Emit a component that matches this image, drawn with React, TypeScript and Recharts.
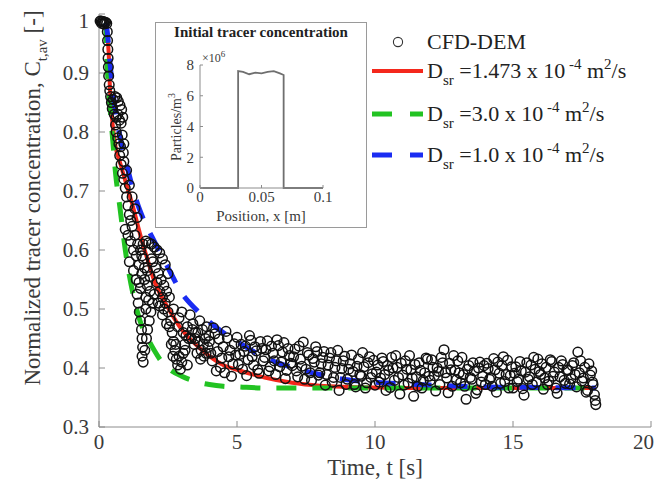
import React from 'react';
import { ComposedChart, LineChart, Line, Scatter, XAxis, YAxis } from 'recharts';

const SERIF = '"Liberation Serif", "Times New Roman", serif';
const AXIS_GREY = '#8c8c8c';
const TEXT = '#3a3a3a';
const RED = '#f4281c';
const GREEN = '#22c322';
const BLUE = '#1a2cf2';

// CFD-DEM samples: [time s, normalized concentration]
const cfdDem: [number, number][] = [
  [0.04, 0.988], [0.08, 0.988], [0.12, 0.987], [0.16, 0.987], [0.2, 0.986], [0.24, 0.986], [0.28, 0.984], [0.1, 0.984], [0.18, 0.983],
  [0.3, 0.97], [0.31, 0.955], [0.32, 0.94], [0.33, 0.925], [0.34, 0.91], [0.35, 0.895], [0.37, 0.88], [0.39, 0.87], [0.42, 0.86], [0.45, 0.85], [0.48, 0.84],
  [0.52, 0.855], [0.58, 0.86], [0.64, 0.858], [0.7, 0.852], [0.76, 0.845], [0.82, 0.838], [0.86, 0.825], [0.55, 0.83], [0.62, 0.825], [0.68, 0.83], [0.74, 0.82], [0.8, 0.815], [0.6, 0.812],
  [0.62, 0.8], [0.68, 0.79], [0.72, 0.78], [0.78, 0.775], [0.84, 0.795], [0.9, 0.78], [0.88, 0.765],
  [0.75, 0.76], [0.8, 0.745], [0.85, 0.73], [0.9, 0.72], [0.95, 0.705], [1.0, 0.69], [1.05, 0.675], [1.1, 0.66], [1.15, 0.65], [1.0, 0.735], [1.1, 0.71], [1.2, 0.69], [1.3, 0.67], [1.38, 0.655], [0.9, 0.75],
  [0.95, 0.635], [1.05, 0.625], [1.15, 0.615], [1.25, 0.6], [1.35, 0.59], [1.45, 0.575], [1.55, 0.56], [1.65, 0.55], [1.75, 0.54], [1.85, 0.53], [1.2, 0.64], [1.3, 0.625], [1.4, 0.61], [1.5, 0.6], [1.6, 0.585], [1.1, 0.58], [1.25, 0.565], [1.35, 0.55], [1.5, 0.535], [1.7, 0.52],
  [1.45, 0.545], [1.55, 0.59], [1.65, 0.57], [1.75, 0.565], [1.85, 0.555], [1.9, 0.585], [2.1, 0.545], [2.2, 0.53], [2.3, 0.52], [2.15, 0.51], [2.35, 0.5],
  [1.6, 0.61], [1.7, 0.615], [1.8, 0.612], [1.9, 0.61], [2.0, 0.605], [2.1, 0.6], [2.2, 0.595], [2.3, 0.585], [2.4, 0.575], [2.5, 0.56], [1.95, 0.58], [2.05, 0.57], [2.15, 0.56], [2.25, 0.55], [2.35, 0.54], [2.45, 0.53], [2.55, 0.52],
  [1.38, 0.525], [1.42, 0.51], [1.46, 0.495], [1.5, 0.48], [1.54, 0.465], [1.56, 0.45], [1.58, 0.435], [1.56, 0.42], [1.6, 0.41], [1.66, 0.43], [1.72, 0.45], [1.76, 0.465], [1.82, 0.48], [1.88, 0.495], [1.94, 0.51], [2.0, 0.525], [1.7, 0.5], [1.8, 0.515],
  [2.2, 0.505], [2.3, 0.49], [2.4, 0.51], [2.5, 0.495], [2.45, 0.475],
  [2.6, 0.48], [2.65, 0.46], [2.7, 0.445], [2.75, 0.43], [2.8, 0.415], [2.85, 0.405], [2.95, 0.398], [3.0, 0.41], [3.05, 0.425], [3.1, 0.44], [3.15, 0.455], [3.2, 0.47], [2.9, 0.485], [3.0, 0.495], [2.7, 0.5], [2.85, 0.47],
  [2.55, 0.47], [2.62, 0.44], [2.68, 0.42], [2.78, 0.44], [2.9, 0.42], [3.05, 0.46], [3.12, 0.43], [3.25, 0.45], [3.38, 0.465], [3.48, 0.45], [3.58, 0.46], [3.68, 0.415], [3.78, 0.44], [3.88, 0.425], [3.98, 0.455], [3.2, 0.405],
  [3.3, 0.49], [3.4, 0.475], [3.5, 0.46], [3.6, 0.445], [3.7, 0.43], [3.8, 0.42], [3.35, 0.45], [3.45, 0.44], [3.55, 0.425], [3.65, 0.48], [3.75, 0.465], [3.85, 0.45], [3.95, 0.435], [3.9, 0.47],
  [4.0, 0.445], [4.1, 0.412], [4.2, 0.458], [4.3, 0.428], [4.4, 0.401], [4.5, 0.436], [4.6, 0.462], [4.7, 0.419], [4.8, 0.386], [4.9, 0.441],
  [5.0, 0.452], [5.1, 0.423], [5.2, 0.398], [5.3, 0.437], [5.4, 0.414], [5.5, 0.447], [5.6, 0.405], [5.7, 0.429], [5.8, 0.391], [5.9, 0.433],
  [6.0, 0.418], [6.1, 0.446], [6.2, 0.402], [6.3, 0.425], [6.4, 0.389], [6.5, 0.438], [6.6, 0.41], [6.7, 0.443], [6.8, 0.396], [6.9, 0.421],
  [7.0, 0.404], [7.1, 0.432], [7.2, 0.385], [7.3, 0.415], [7.4, 0.444], [7.5, 0.398], [7.6, 0.422], [7.7, 0.379], [7.8, 0.41], [7.9, 0.428],
  [8.0, 0.392], [8.1, 0.418], [8.2, 0.371], [8.3, 0.405], [8.4, 0.426], [8.5, 0.384], [8.6, 0.412], [8.7, 0.362], [8.8, 0.399], [8.9, 0.42],
  [9.0, 0.381], [9.1, 0.407], [9.2, 0.394], [9.3, 0.368], [9.4, 0.415], [9.5, 0.386], [9.6, 0.402], [9.7, 0.375], [9.8, 0.419], [9.9, 0.39],
  [10.0, 0.371], [10.1, 0.405], [10.2, 0.383], [10.3, 0.411], [10.4, 0.362], [10.5, 0.396], [10.6, 0.418], [10.7, 0.379], [10.8, 0.401], [10.9, 0.356],
  [11.0, 0.388], [11.1, 0.412], [11.2, 0.374], [11.3, 0.397], [11.4, 0.352], [11.5, 0.385], [11.6, 0.409], [11.7, 0.366], [11.8, 0.392], [11.9, 0.415],
  [12.0, 0.379], [12.1, 0.401], [12.2, 0.361], [12.3, 0.394], [12.4, 0.418], [12.5, 0.431], [12.6, 0.383], [12.7, 0.408], [12.8, 0.369], [12.9, 0.396],
  [13.0, 0.412], [13.1, 0.375], [13.2, 0.389], [13.3, 0.347], [13.4, 0.404], [13.5, 0.381], [13.6, 0.395], [13.7, 0.363], [13.8, 0.41], [13.9, 0.386],
  [14.0, 0.372], [14.1, 0.399], [14.2, 0.384], [14.3, 0.416], [14.4, 0.359], [14.5, 0.391], [14.6, 0.404], [14.7, 0.377], [14.8, 0.413], [14.9, 0.387],
  [15.0, 0.366], [15.1, 0.402], [15.2, 0.381], [15.3, 0.395], [15.4, 0.354], [15.5, 0.409], [15.6, 0.385], [15.7, 0.372], [15.8, 0.398], [15.9, 0.415],
  [16.0, 0.389], [16.1, 0.364], [16.2, 0.401], [16.3, 0.378], [16.4, 0.411], [16.5, 0.393], [16.6, 0.357], [16.7, 0.385], [16.8, 0.406], [16.9, 0.374],
  [17.0, 0.396], [17.1, 0.382], [17.2, 0.409], [17.3, 0.368], [17.35, 0.427], [17.4, 0.392], [17.5, 0.378], [17.6, 0.401], [17.7, 0.362], [17.8, 0.388],
  [17.9, 0.372], [17.95, 0.355], [18.0, 0.338], [17.98, 0.345],
  [4.05, 0.425], [4.15, 0.468], [4.25, 0.395], [4.35, 0.449], [4.45, 0.417], [4.55, 0.392], [4.65, 0.451], [4.75, 0.43], [4.85, 0.407], [4.95, 0.422],
  [5.05, 0.406], [5.15, 0.44], [5.25, 0.428], [5.35, 0.387], [5.45, 0.455], [5.55, 0.419], [5.65, 0.436], [5.75, 0.397], [5.85, 0.445], [5.95, 0.412],
  [6.05, 0.431], [6.15, 0.395], [6.25, 0.437], [6.35, 0.412], [6.45, 0.448], [6.55, 0.402], [6.65, 0.427], [6.75, 0.382], [6.85, 0.433], [6.95, 0.408],
  [7.05, 0.419], [7.15, 0.395], [7.25, 0.437], [7.35, 0.403], [7.45, 0.381], [7.55, 0.426], [7.65, 0.392], [7.75, 0.416], [7.85, 0.436], [7.95, 0.388],
  [8.05, 0.407], [8.15, 0.428], [8.25, 0.389], [8.35, 0.417], [8.45, 0.376], [8.55, 0.401], [8.65, 0.43], [8.75, 0.384], [8.85, 0.412], [8.95, 0.372],
  [9.05, 0.398], [9.15, 0.422], [9.25, 0.372], [9.35, 0.403], [9.45, 0.389], [9.55, 0.426], [9.65, 0.366], [9.75, 0.409], [9.85, 0.384], [9.95, 0.413],
  [10.05, 0.393], [10.15, 0.376], [10.25, 0.417], [10.35, 0.389], [10.45, 0.404], [10.55, 0.367], [10.65, 0.4], [10.75, 0.421], [10.85, 0.384], [10.95, 0.408],
  [11.05, 0.371], [11.15, 0.398], [11.25, 0.421], [11.35, 0.383], [11.45, 0.406], [11.55, 0.369], [11.65, 0.396], [11.75, 0.379], [11.85, 0.417], [11.95, 0.386],
  [12.05, 0.414], [12.15, 0.387], [12.25, 0.4], [12.35, 0.372], [12.45, 0.409], [12.55, 0.392], [12.65, 0.358], [12.75, 0.397], [12.85, 0.421], [12.95, 0.38],
  [13.05, 0.392], [13.15, 0.418], [13.25, 0.369], [13.35, 0.398], [13.45, 0.384], [13.55, 0.409], [13.65, 0.357], [13.75, 0.4], [13.85, 0.376], [13.95, 0.404],
  [14.05, 0.408], [14.15, 0.381], [14.25, 0.369], [14.35, 0.397], [14.45, 0.41], [14.55, 0.374], [14.65, 0.419], [14.75, 0.389], [14.85, 0.366], [14.95, 0.402],
  [15.05, 0.391], [15.15, 0.377], [15.25, 0.411], [15.35, 0.365], [15.45, 0.393], [15.55, 0.381], [15.65, 0.405], [15.75, 0.418], [15.85, 0.376], [15.95, 0.394],
  [16.05, 0.407], [16.15, 0.383], [16.25, 0.372], [16.35, 0.414], [16.45, 0.386], [16.55, 0.366], [16.65, 0.401], [16.75, 0.412], [16.85, 0.379], [16.95, 0.397],
  [17.05, 0.373], [17.15, 0.404], [17.25, 0.389], [17.45, 0.412], [17.55, 0.383], [17.65, 0.359], [17.75, 0.407], [17.85, 0.395], [17.88, 0.376],
];

// model curves share one time grid
const fitTime = [0.25, 0.3, 0.35, 0.4, 0.5, 0.6, 0.75, 1.0, 1.25, 1.5, 1.75, 2.0, 2.25, 2.5, 3.0, 3.5, 4.0, 4.5, 5.0, 6.0, 7.0, 8.0, 9.0, 10, 12, 14, 16, 18];
const fitDsr1473 = [0.985, 0.965, 0.935, 0.87, 0.81, 0.775, 0.75, 0.71, 0.67, 0.625, 0.585, 0.548, 0.522, 0.502, 0.465, 0.44, 0.42, 0.405, 0.397, 0.384, 0.375, 0.37, 0.368, 0.367, 0.366, 0.366, 0.366, 0.366];
const fitDsr30 = [0.985, 0.91, 0.87, 0.842, 0.785, 0.73, 0.675, 0.585, 0.522, 0.478, 0.452, 0.43, 0.412, 0.4, 0.386, 0.377, 0.372, 0.369, 0.368, 0.366, 0.366, 0.366, 0.366, 0.366, 0.366, 0.366, 0.366, 0.366];
const fitDsr10 = [0.985, 0.97, 0.945, 0.917, 0.87, 0.835, 0.795, 0.745, 0.7, 0.665, 0.638, 0.615, 0.592, 0.57, 0.527, 0.5, 0.478, 0.46, 0.445, 0.418, 0.401, 0.389, 0.38, 0.376, 0.371, 0.368, 0.367, 0.366];

const xTicks = [0, 5, 10, 15, 20];
const yTicks = [0.3, 0.4, 0.5, 0.6, 0.7, 0.8, 0.9, 1];

// inset: initial tracer profile
const insetPosition = [0, 0.031, 0.031, 0.035, 0.04, 0.045, 0.05, 0.055, 0.06, 0.065, 0.068, 0.068, 0.1];
const insetParticles = [0, 0, 7.6e6, 7.55e6, 7.4e6, 7.5e6, 7.45e6, 7.55e6, 7.6e6, 7.45e6, 7.35e6, 0, 0];
const insetXTicks = [0, 0.05, 0.1];
const insetYTicks = [0, 2e6, 4e6, 6e6, 8e6];

const cfdData = cfdDem.map(([t, c]) => ({ t, c }));
const toCurve = (vals: number[]) => fitTime.map((t, i) => ({ t, c: vals[i] }));
const redData = toCurve(fitDsr1473);
const greenData = toCurve(fitDsr30);
const blueData = toCurve(fitDsr10);
const insetData = insetPosition.map((x, i) => ({ x, n: insetParticles[i] }));

const OpenCircle = (props: any) => (
  <circle cx={props.cx} cy={props.cy} r={4.8} fill="none" stroke="#111" strokeWidth={1.5} />
);

const YTitle = () => (
  <text x={32} y={190} transform="rotate(-90 32 190)" textAnchor="middle" fontFamily={SERIF} fontSize={23} fill={TEXT}>
    Normalized tracer concentration, C
    <tspan fontSize={15} dy={7}>t,av</tspan>
    <tspan dy={-7}> [-]</tspan>
  </text>
);

const XTitle = () => (
  <text x={367} y={467} textAnchor="middle" fontFamily={SERIF} fontSize={23} fill={TEXT}>
    Time, t [s]
  </text>
);

const InsetXTitle = () => (
  <text x={105} y={198} textAnchor="middle" fontFamily={SERIF} fontSize={15} fill={TEXT}>
    Position, x [m]
  </text>
);

const InsetYTitle = () => (
  <text x={25} y={104} transform="rotate(-90 25 104)" textAnchor="middle" fontFamily={SERIF} fontSize={14} fill={TEXT}>
    Particles/m
    <tspan fontSize={10} dy={-6}>3</tspan>
  </text>
);

const DsrLabel = ({ x, y, value }: { x: number; y: number; value: string }) => (
  <text x={x} y={y} fontFamily={SERIF} fontSize={22} fill="#222">
    D
    <tspan fontSize={15} dy={7}>sr</tspan>
    <tspan dy={-7}>{' =' + value + ' x 10'}</tspan>
    <tspan fontSize={15} dy={-9}>{' -4'}</tspan>
    <tspan dy={9}> m</tspan>
    <tspan fontSize={15} dy={-9}>2</tspan>
    <tspan dy={9}>/s</tspan>
  </text>
);

const tickStyle = { fill: TEXT, fontSize: 21, fontFamily: SERIF };
const insetTick = { fill: TEXT, fontSize: 15, fontFamily: SERIF };

function Inset() {
  return (
    <div
      style={{
        position: 'absolute',
        left: 148,
        top: 15,
        width: 210,
        height: 204,
        background: '#fff',
        outline: '1.5px solid #9a9a9a',
      }}
    >
      <div
        style={{
          position: 'absolute',
          top: 1,
          width: '100%',
          textAlign: 'center',
          fontFamily: SERIF,
          fontWeight: 'bold',
          fontSize: 15,
          color: '#222',
        }}
      >
        Initial tracer concentration
      </div>
      <div style={{ position: 'absolute', left: 0, top: 0 }}>
        <LineChart width={210} height={204} data={insetData} margin={{ top: 42, right: 43, bottom: 0, left: 0 }}>
          <XAxis
            dataKey="x"
            type="number"
            domain={[0, 0.1]}
            ticks={insetXTicks}
            tickFormatter={(v: number) => (v === 0 ? '0' : String(v))}
            height={39}
            stroke={AXIS_GREY}
            tickSize={-3}
            tickMargin={6}
            tick={insetTick}
            label={<InsetXTitle />}
          />
          <XAxis xAxisId="top" orientation="top" type="number" domain={[0, 0.1]} ticks={insetXTicks} height={0} stroke={AXIS_GREY} tick={false} tickSize={-3} />
          <YAxis
            type="number"
            domain={[0, 8e6]}
            ticks={insetYTicks}
            tickFormatter={(v: number) => String(v / 1e6)}
            width={44}
            stroke={AXIS_GREY}
            tickSize={-3}
            tickMargin={9}
            tick={insetTick}
            label={<InsetYTitle />}
          />
          <YAxis yAxisId="right" orientation="right" type="number" domain={[0, 8e6]} ticks={insetYTicks} width={0} stroke={AXIS_GREY} tick={false} tickSize={-3} />
          <Line dataKey="n" type="linear" stroke="#6f6f6f" strokeWidth={1.8} dot={false} activeDot={false} isAnimationActive={false} />
          <text x={46} y={39} fontFamily={SERIF} fontSize={12} fill={TEXT}>
            ×10
            <tspan fontSize={9} dy={-5}>6</tspan>
          </text>
        </LineChart>
      </div>
    </div>
  );
}

function LegendBox() {
  return (
    <svg width={646} height={480} style={{ position: 'absolute', left: 0, top: 0, pointerEvents: 'none' }}>
      <circle cx={390} cy={34} r={4.6} fill="none" stroke="#333" strokeWidth={1.1} />
      <text x={419} y={41} fontFamily={SERIF} fontSize={22} fill="#222">CFD-DEM</text>
      <line x1={364} x2={415} y1={63} y2={63} stroke={RED} strokeWidth={4} />
      <DsrLabel x={419} y={70} value="1.473" />
      <line x1={364} x2={415} y1={106} y2={106} stroke={GREEN} strokeWidth={5} strokeDasharray="20 18" />
      <DsrLabel x={419} y={113} value="3.0" />
      <line x1={364} x2={415} y1={147} y2={147} stroke={BLUE} strokeWidth={5} strokeDasharray="20 18" />
      <DsrLabel x={419} y={154} value="1.0" />
    </svg>
  );
}

export default function App() {
  return (
    <div style={{ position: 'relative', width: 646, height: 480, background: '#fff' }}>
      <ComposedChart width={646} height={480} margin={{ top: 6, right: 3, bottom: 0, left: 0 }}>
        <XAxis
          dataKey="t"
          type="number"
          domain={[0, 20]}
          ticks={xTicks}
          height={61}
          stroke={AXIS_GREY}
          tickSize={-6}
          tickMargin={13}
          tick={tickStyle}
          label={<XTitle />}
        />
        <XAxis xAxisId="top" orientation="top" type="number" domain={[0, 20]} ticks={xTicks} height={0} stroke={AXIS_GREY} tick={false} tickSize={-6} />
        <YAxis
          type="number"
          domain={[0.3, 1]}
          ticks={yTicks}
          tickFormatter={(v: number) => (v === 1 ? '1' : v.toFixed(1))}
          width={91}
          stroke={AXIS_GREY}
          tickSize={-6}
          tickMargin={16}
          tick={tickStyle}
          label={<YTitle />}
        />
        <YAxis yAxisId="right" orientation="right" type="number" domain={[0.3, 1]} ticks={yTicks} width={0} stroke={AXIS_GREY} tick={false} tickSize={-6} />
        <Scatter data={cfdData} dataKey="c" shape={OpenCircle} isAnimationActive={false} />
        <Line data={redData} dataKey="c" type="monotone" stroke={RED} strokeWidth={4} dot={false} activeDot={false} isAnimationActive={false} />
        <Line data={greenData} dataKey="c" type="monotone" stroke={GREEN} strokeWidth={5} strokeDasharray="20 16" dot={false} activeDot={false} isAnimationActive={false} />
        <Line data={blueData} dataKey="c" type="monotone" stroke={BLUE} strokeWidth={5} strokeDasharray="20 16" dot={false} activeDot={false} isAnimationActive={false} />
      </ComposedChart>
      <Inset />
      <LegendBox />
    </div>
  );
}
